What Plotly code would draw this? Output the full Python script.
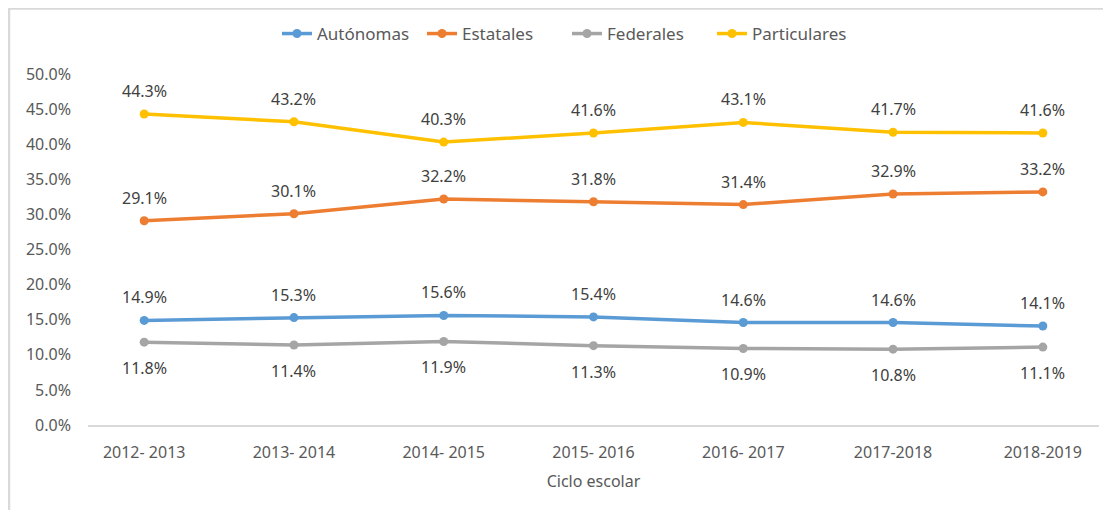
import plotly.graph_objects as go

ciclos = ["2012- 2013", "2013- 2014", "2014- 2015", "2015- 2016", "2016- 2017", "2017-2018", "2018-2019"]
autonomas = [14.9, 15.3, 15.6, 15.4, 14.6, 14.6, 14.1]
estatales = [29.1, 30.1, 32.2, 31.8, 31.4, 32.9, 33.2]
federales = [11.8, 11.4, 11.9, 11.3, 10.9, 10.8, 11.1]
particulares = [44.3, 43.2, 40.3, 41.6, 43.1, 41.7, 41.6]

series = [
    ("Autónomas", autonomas, "#5B9BD5", 1),
    ("Estatales", estatales, "#ED7D31", 1),
    ("Federales", federales, "#A5A5A5", -1),
    ("Particulares", particulares, "#FFC000", 1),
]

FONT = "Noto Sans"
W, H = 1103, 502
L, R, T, B = 80, 12, 66, 85
PW, PH = W - L - R, H - T - B

fig = go.Figure()
annotations = []
for name, vals, color, side in series:
    fig.add_trace(go.Scatter(
        x=ciclos, y=vals, name=name, mode="lines+markers",
        line=dict(color=color, width=3.5),
        marker=dict(color=color, size=9),
    ))
    for c, v in zip(ciclos, vals):
        annotations.append(dict(
            x=c, y=v, text=f"{v:.1f}%", showarrow=False,
            yshift=23 if side > 0 else -26,
            font=dict(family=FONT, size=16, color="#404040"),
        ))

fig.update_layout(
    width=W, height=H,
    margin=dict(l=L, r=R, t=T, b=B, autoexpand=False),
    paper_bgcolor="white", plot_bgcolor="white",
    font=dict(family=FONT, size=16, color="#595959"),
    showlegend=True,
    legend=dict(orientation="h", x=(567 - 8) / W, xref="container", xanchor="center",
                y=1 - (26 / H), yref="container", yanchor="middle",
                bgcolor="rgba(0,0,0,0)",
                font=dict(family=FONT, size=17, color="#595959"),
                itemwidth=30, entrywidth=100, entrywidthmode="pixels"),
    annotations=annotations,
    xaxis=dict(
        showgrid=False, showline=True, linecolor="#D9D9D9", linewidth=1.5,
        ticks="", ticklabelstandoff=12,
        tickfont=dict(family=FONT, size=16, color="#595959"),
        title=dict(text="Ciclo escolar", font=dict(family=FONT, size=16, color="#595959"), standoff=14),
        zeroline=False,
    ),
    yaxis=dict(
        range=[0, 50], dtick=5, showgrid=False, zeroline=False, showline=False,
        ticksuffix="%", tickformat=".1f", ticklabelstandoff=16,
        tickfont=dict(family=FONT, size=16, color="#595959"),
        ticks="",
    ),
    shapes=[
        dict(type="line", xref="paper", yref="paper",
             x0=-L / PW, x1=(W - L + 10) / PW, y0=(H - B - 0.5) / PH, y1=(H - B - 0.5) / PH,
             line=dict(color="#D9D9D9", width=2.5)),
        dict(type="line", xref="paper", yref="paper",
             x0=(1 - L) / PW, x1=(1 - L) / PW, y0=(H - B) / PH, y1=-B / PH,
             line=dict(color="#D9D9D9", width=2.5)),
    ],
)

fig.write_html("out.html")
